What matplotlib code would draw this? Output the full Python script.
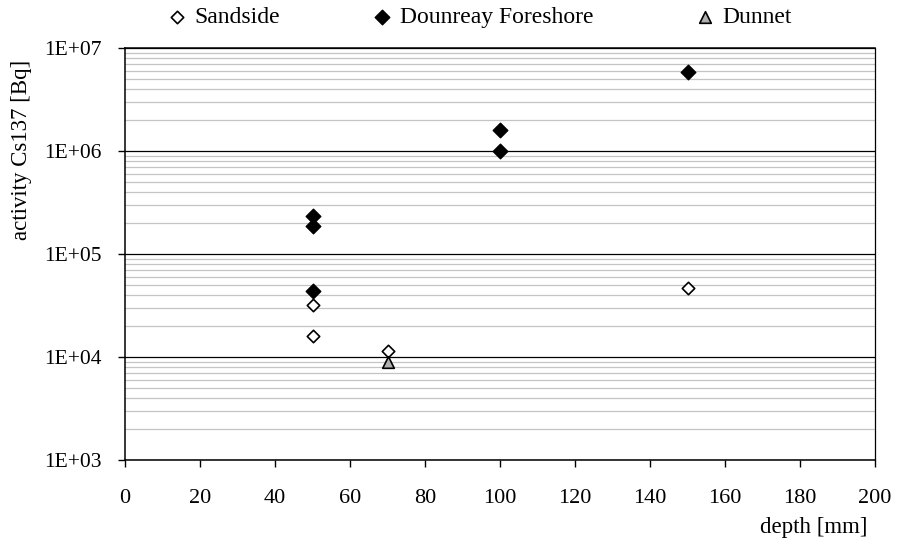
import matplotlib
matplotlib.use("Agg")
import matplotlib.pyplot as plt
from matplotlib.ticker import LogLocator, NullFormatter
import numpy as np

plt.rcParams['font.family'] = ['Liberation Serif', 'DejaVu Serif']

sandside_x = [50, 50, 70, 150]
sandside_y = [1.6e4, 3.2e4, 1.14e4, 4.7e4]
dounreay_x = [50, 50, 50, 100, 100, 150]
dounreay_y = [2.35e5, 1.87e5, 4.4e4, 1.6e6, 1.0e6, 5.85e6]
dunnet_x = [70]
dunnet_y = [8.9e3]
x_ticks = [0, 20, 40, 60, 80, 100, 120, 140, 160, 180, 200]
y_ticks = [1e3, 1e4, 1e5, 1e6, 1e7]
y_labels = ["1E+03", "1E+04", "1E+05", "1E+06", "1E+07"]

fig = plt.figure(figsize=(8.97, 5.46), dpi=100)
ax = fig.add_axes([125/897, 1-460/546, 750/897, 412/546])
ax.set_yscale('log')
ax.set_xlim(0, 200)
ax.set_ylim(1e3, 1e7)

ax.yaxis.set_minor_locator(LogLocator(base=10, subs=np.arange(2, 10)))
ax.yaxis.set_minor_formatter(NullFormatter())
ax.grid(True, which='minor', axis='y', color='#c4c4c4', lw=0.9, zorder=0)
ax.grid(True, which='major', axis='y', color='#000000', lw=0.9, zorder=0)

s1 = ax.scatter(sandside_x, sandside_y, marker='D', s=40, facecolors='white', edgecolors='black', linewidths=1.2, zorder=3, label='Sandside')
s2 = ax.scatter(dounreay_x, dounreay_y, marker='D', s=55, facecolors='black', edgecolors='black', zorder=3, label='Dounreay Foreshore')
s3 = ax.scatter(dunnet_x, dunnet_y, marker='^', s=70, facecolors='#b0b0b0', edgecolors='black', linewidths=1.2, zorder=3, label='Dunnet')

ax.set_xticks(x_ticks)
ax.set_yticks(y_ticks)
ax.set_yticklabels(y_labels)
ax.tick_params(axis='x', which='major', direction='out', length=5, labelsize=16, pad=16, width=1)
ax.tick_params(axis='y', which='major', direction='out', length=5, labelsize=15.5, pad=12, width=1)
ax.tick_params(axis='y', which='minor', length=0)

for s in ['top', 'right', 'left', 'bottom']:
    ax.spines[s].set_linewidth(1.1)
ax.spines['right'].set_linewidth(0.9)

fig.text(814/897, 1-528/546, 'depth [mm]', ha='center', va='center', fontsize=16.5)
fig.text(22/897, 1-150/546, 'activity Cs137 [Bq]', rotation=90, ha='center', va='center', fontsize=16.5)

for h, xpos in [(s1, 168), (s2, 373), (s3, 696)]:
    fig.legend(handles=[h], loc='center left', bbox_to_anchor=(xpos/897, 1-17/546),
               frameon=False, fontsize=17, handlelength=0.8, handletextpad=0.33,
               borderpad=0, borderaxespad=0, markerscale=1.0)

fig.savefig('out.png', dpi=100)
